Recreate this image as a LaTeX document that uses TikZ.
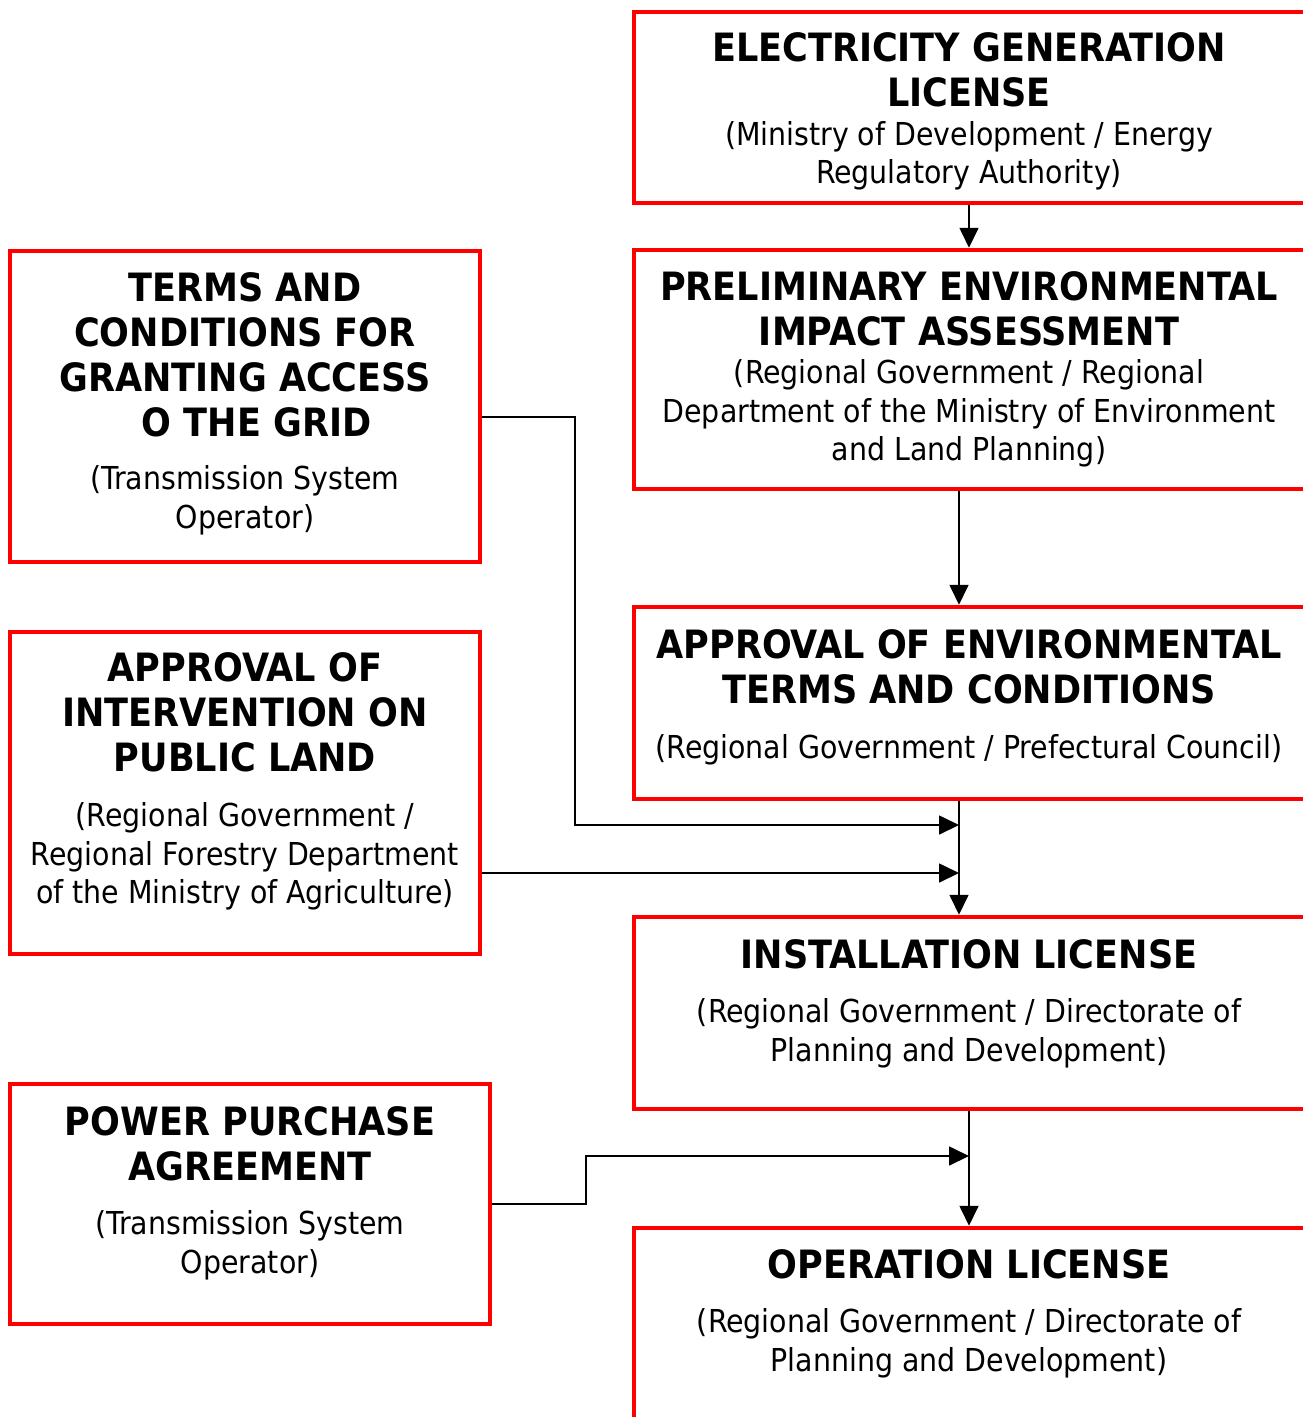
\documentclass[tikz,border=0pt]{standalone}
\usepackage{fontspec}
\setmainfont{DejaVu Sans Condensed}
\usetikzlibrary{arrows.meta,positioning}

\tikzset{
  frame/.style={draw=red, line width=4.5pt, inner sep=0pt},
  head/.style={inner sep=0pt, align=center, font=\fontsize{39}{45}\selectfont\bfseries},
  body/.style={inner sep=0pt, align=center, font=\fontsize{31.6}{38.5}\selectfont},
  link/.style={draw=black, line width=1.7pt},
  arr/.style={link, -{Triangle[length=20pt,width=19pt]}},
}

\begin{document}
\begin{tikzpicture}[x=1pt,y=1pt,yscale=-1,xscale=1]
\useasboundingbox (0,0) rectangle (1303,1417);

%Frames, right column (cut off by the page edge)
\node[frame, minimum width=676, minimum height=191] (elb) at (972,107.5) {};
\node[frame, minimum width=676, minimum height=239] (peia) at (972,369.5) {};
\node[frame, minimum width=676, minimum height=192] (aetc) at (972,703) {};
\node[frame, minimum width=676, minimum height=192] (inst) at (972,1013) {};
\node[frame, minimum width=676, minimum height=212] (oper) at (972,1334) {};
%Frames, left column
\node[frame, minimum width=470, minimum height=311] (tcga) at (245,406.5) {};
\node[frame, minimum width=470, minimum height=322] (apl) at (245,793) {};
\node[frame, minimum width=480, minimum height=240] (ppa) at (250,1204) {};

% Text Node
\node[head] (elbT) at (969,69.5) {ELECTRICITY GENERATION\\LICENSE};
\node[body] (elbB) at (969,156) {(Ministry of Development / Energy\\Regulatory Authority)};
% Text Node
\node[head] (peiaT) at (969,309) {PRELIMINARY ENVIRONMENTAL\\IMPACT ASSESSMENT};
\node[body] (peiaB) at (969,413.5) {(Regional Government / Regional\\Department of the Ministry of Environment\\and Land Planning)};
% Text Node
\node[head] (aetcT) at (969,666.5) {APPROVAL OF ENVIRONMENTAL\\TERMS AND CONDITIONS};
\node[body] (aetcB) at (969,749.5) {(Regional Government / Prefectural Council)};
% Text Node
\node[head] (instT) at (969,954) {INSTALLATION LICENSE};
\node[body] (instB) at (969,1033.5) {(Regional Government / Directorate of\\Planning and Development)};
% Text Node
\node[head] (operT) at (969,1264) {OPERATION LICENSE};
\node[body] (operB) at (969,1343.5) {(Regional Government / Directorate of\\Planning and Development)};
% Text Node
\node[head] (tcgaT) at (245,354.5) {TERMS AND\\CONDITIONS FOR\\GRANTING ACCESS\\\hspace{0.6em}O THE GRID};
\node[body] (tcgaB) at (245,500.5) {(Transmission System\\Operator)};
% Text Node
\node[head] (aplT) at (245,712.5) {APPROVAL OF\\INTERVENTION ON\\PUBLIC LAND};
\node[body] (aplB) at (245,856.5) {(Regional Government /\\Regional Forestry Department\\of the Ministry of Agriculture)};
% Text Node
\node[head] (ppaT) at (250,1143.5) {POWER PURCHASE\\AGREEMENT};
\node[body] (ppaB) at (250,1245.5) {(Transmission System\\Operator)};

%Trunk lines and junctions
\coordinate (spine) at (969,0);
\coordinate (trunk) at (959,0);
\coordinate (tapA) at (575,417);
\coordinate (jA) at (959,825);
\coordinate (jB) at (959,873);
\coordinate (bend) at (586,1156);
\coordinate (jC) at (969,1156);

%Straight Lines
\draw[arr] (elb.south -| spine) -- (peia.north -| spine);
\draw[arr] (peia.south -| trunk) -- (aetc.north -| trunk);
\draw[arr] (aetc.south -| trunk) -- (inst.north -| trunk);
\draw[arr] (inst.south -| spine) -- (oper.north -| spine);
%Feeds from the left column
\draw[arr] (tcga.east |- tapA) -- (tapA) |- (jA);
\draw[arr] (apl.east |- jB) -- (jB);
\draw[arr] (ppa.east) -| (bend) -- (jC);

\end{tikzpicture}
\end{document}
